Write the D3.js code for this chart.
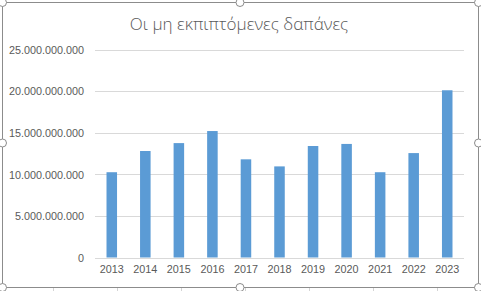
<!DOCTYPE html>
<html>
<head>
<meta charset="utf-8">
<script src="https://cdn.jsdelivr.net/npm/d3@7"></script>
<style>
  body { margin: 0; background: #fff; }
  .tick text { font-family: "Liberation Sans", Arial, sans-serif; fill: #595959; }
</style>
</head>
<body>
<div id="main"></div>
<script>
const W = 481, H = 291;

const years = ["2013", "2014", "2015", "2016", "2017", "2018", "2019", "2020", "2021", "2022", "2023"];
const values = [10.25e9, 12.8e9, 13.75e9, 15.2e9, 11.8e9, 10.95e9, 13.4e9, 13.65e9, 10.25e9, 12.55e9, 20.1e9];
const yTicks = [0, 5e9, 10e9, 15e9, 20e9, 25e9];
const title = "Οι μη εκπιπτόμενες δαπάνες";

const svg = d3.select("#main").append("svg")
    .attr("width", W)
    .attr("height", H);

// spreadsheet cells peeking out under the chart
const sheetLines = [53, 117, 181, 245, 309, 373, 437];
svg.selectAll("line.sheet")
    .data(sheetLines)
    .enter()
    .append("line")
    .attr("x1", d => d + 0.5).attr("x2", d => d + 0.5)
    .attr("y1", 288).attr("y2", H)
    .attr("stroke", "#d4d4d4");

// chart frame
svg.append("rect")
    .attr("x", 2.5).attr("y", 2.5)
    .attr("width", 476).attr("height", 285)
    .attr("fill", "#fff")
    .attr("stroke", "#8c8c8c");

const x = d3.scaleBand()
    .domain(years)
    .range([95, 464])
    .paddingInner(0.686)
    .paddingOuter(0.343);

const y = d3.scaleLinear()
    .domain([0, 25e9])
    .range([257.5, 49.5]);

const fmt = v => d3.format(",")(v).replace(/,/g, ".");

// gridlines
svg.append("g")
    .selectAll("line")
    .data(yTicks)
    .enter()
    .append("line")
    .attr("x1", 95).attr("x2", 464)
    .attr("y1", d => Math.round(y(d)) + 0.5)
    .attr("y2", d => Math.round(y(d)) + 0.5)
    .attr("stroke", "#d9d9d9");

// y axis labels
const yAxis = svg.append("g")
    .attr("transform", "translate(84,0)")
    .call(d3.axisLeft(y).tickValues(yTicks).tickFormat(fmt).tickSize(0).tickPadding(0));
yAxis.select(".domain").remove();
yAxis.selectAll("text").attr("font-size", 10.8).attr("dy", "0.35em");

// bars
svg.append("g")
    .selectAll("rect")
    .data(values)
    .enter()
    .append("rect")
    .attr("x", (d, i) => x(years[i]))
    .attr("width", x.bandwidth())
    .attr("y", d => y(d))
    .attr("height", d => y(0) - y(d))
    .attr("fill", "#5b9bd5");

// x axis labels
const xAxis = svg.append("g")
    .attr("transform", "translate(0,265)")
    .call(d3.axisBottom(x).tickSize(0).tickPadding(0));
xAxis.select(".domain").remove();
xAxis.selectAll("text").attr("font-size", 10.8).attr("dy", "0.71em");

// title
svg.append("text")
    .attr("x", 239)
    .attr("y", 30)
    .attr("text-anchor", "middle")
    .attr("font-family", "'Open Sans', 'Liberation Sans', sans-serif")
    .attr("font-weight", 300)
    .attr("font-size", 17)
    .attr("fill", "#595959")
    .text(title);

// selection handles
const handles = [[2.5, 2.5], [240, 2.5], [478.5, 2.5], [2.5, 143], [478.5, 143], [2.5, 287.5], [240, 287.5], [478.5, 287.5]];
svg.selectAll("circle.handle")
    .data(handles)
    .enter()
    .append("circle")
    .attr("cx", d => d[0]).attr("cy", d => d[1])
    .attr("r", 4)
    .attr("fill", "#fff")
    .attr("stroke", "#8c8c8c");
</script>
</body>
</html>
